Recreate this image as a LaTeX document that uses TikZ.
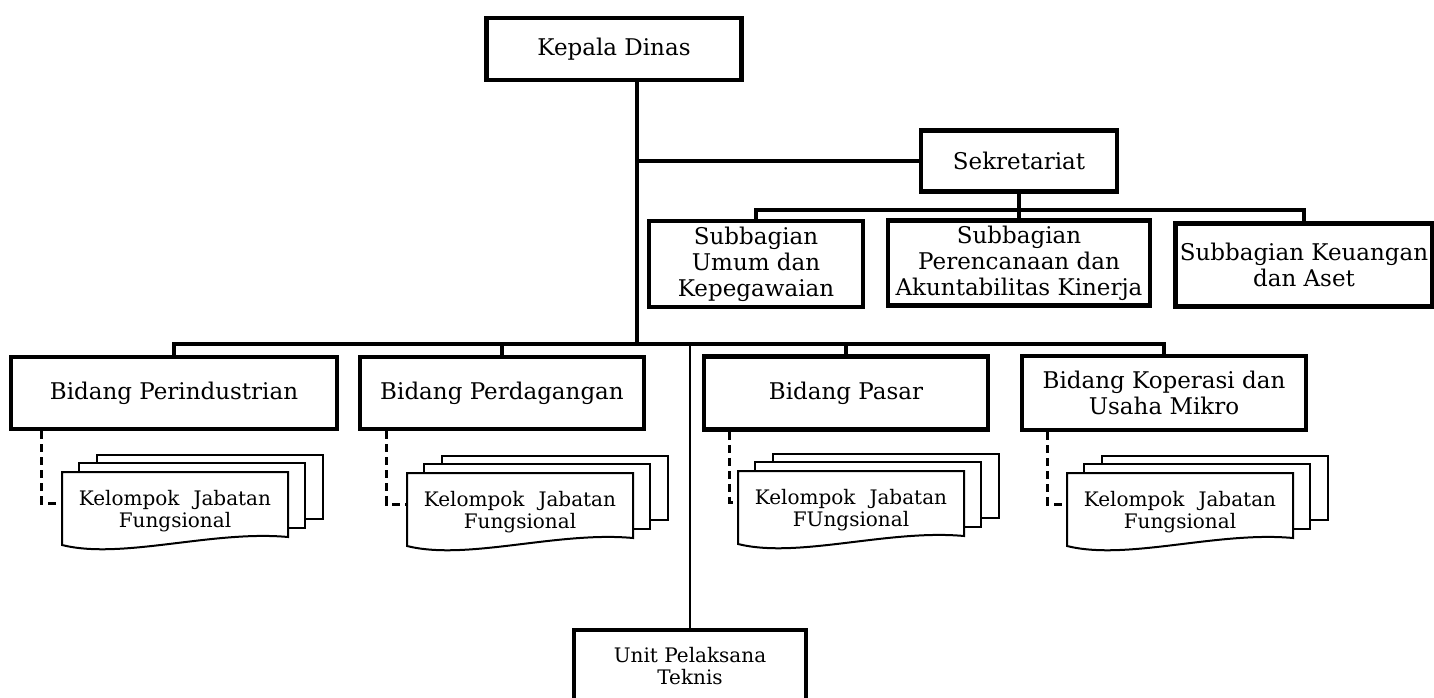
\documentclass[tikz,border=0pt]{standalone}
\usepackage{fontspec}
\setmainfont{DejaVu Serif}

\begin{document}
\begin{tikzpicture}[x=1pt, y=-1pt,
    main/.style = {draw, rectangle, line width=4.5pt, align=center, inner sep=0pt, font=\fontsize{23}{26}\selectfont},
    line/.style = {line width=4.5pt},
    fungline/.style = {dashed, dash pattern=on 8pt off 5pt, line width=3pt},
    kjf/.style = {align=center, inner sep=0pt, font={\fontsize{20}{22}\selectfont\spaceskip=14pt plus 1pt}},
    sheet/.style = {draw, fill=white, line width=2pt},
    kelompok/.pic = {
        \draw[sheet] (35,-17) rectangle (261,47);
        \draw[sheet] (17,-9) rectangle (243,56);
        \draw[sheet] (0,0) -- (226,0) -- (226,65) .. controls (150,58) and (60,88) .. (0,73) -- cycle;
        \coordinate (-in) at (0,31);
    }]
            \useasboundingbox (0,0) rectangle (1434,697);
            \node[main, minimum width=255pt, minimum height=62pt] (kadis) at (614,49) {Kepala Dinas};
            \node[main, minimum width=196pt, minimum height=61pt] (sekre) at (1019,161) {Sekretariat};
            \node[main, minimum width=214pt, minimum height=86pt] (umum) at (756,264) {Subbagian\\Umum dan\\Kepegawaian};
            \node[main, minimum width=262pt, minimum height=85pt] (renc) at (1019,263) {Subbagian\\Perencanaan dan\\Akuntabilitas Kinerja};
            \node[main, minimum width=257pt, minimum height=83pt] (keu) at (1304,265) {Subbagian Keuangan\\dan Aset};
            \node[main, minimum width=326pt, minimum height=72pt] (perind) at (174,393) {Bidang Perindustrian};
            \node[main, minimum width=284pt, minimum height=72pt] (perdag) at (502,393) {Bidang Perdagangan};
            \node[main, minimum width=284pt, minimum height=73pt] (pasar) at (846,393) {Bidang Pasar};
            \node[main, minimum width=284pt, minimum height=74pt] (kop) at (1164,393) {Bidang Koperasi dan\\Usaha Mikro};
            \node[main, minimum width=232pt, minimum height=72pt, font=\fontsize{20}{22}\selectfont] (upt) at (690,666) {Unit Pelaksana\\Teknis};
            \coordinate (trunk) at (637,344);
            \coordinate (sbus) at (1019,210);
            \draw[line] (kadis.south -| trunk) -- (trunk);
            \draw[line] (sekre.west) -- (sekre.west -| trunk);
            \draw[line] (sekre.south) -- (renc.north);
            \draw[line] (umum.north) |- (sbus) -| (keu.north);
            \draw[line] (perind.north) |- (trunk) -| (kop.north);
            \draw[line] (perdag.north) -- (perdag.north |- trunk);
            \draw[line] (pasar.north) -- (pasar.north |- trunk);
            \draw[line width=2pt] (upt.north |- trunk) -- (upt.north);
            % kelompok jabatan fungsional
            \pic (k1) at (62,472) {kelompok};
            \node[kjf] (kjf1) at (175,511) {Kelompok Jabatan\\Fungsional};
            \draw[fungline] ([xshift=33pt]perind.south west) |- (k1-in);
            \pic (k2) at (407,473) {kelompok};
            \node[kjf] (kjf2) at (520,512) {Kelompok Jabatan\\Fungsional};
            \draw[fungline] ([xshift=29pt]perdag.south west) |- (k2-in);
            \pic (k3) at (738,471) {kelompok};
            \node[kjf] (kjf3) at (851,510) {Kelompok Jabatan\\FUngsional};
            \draw[fungline] ([xshift=28pt]pasar.south west) |- (k3-in);
            \pic (k4) at (1067,473) {kelompok};
            \node[kjf] (kjf4) at (1180,512) {Kelompok Jabatan\\Fungsional};
            \draw[fungline] ([xshift=28pt]kop.south west) |- (k4-in);
        \end{tikzpicture}
\end{document}
